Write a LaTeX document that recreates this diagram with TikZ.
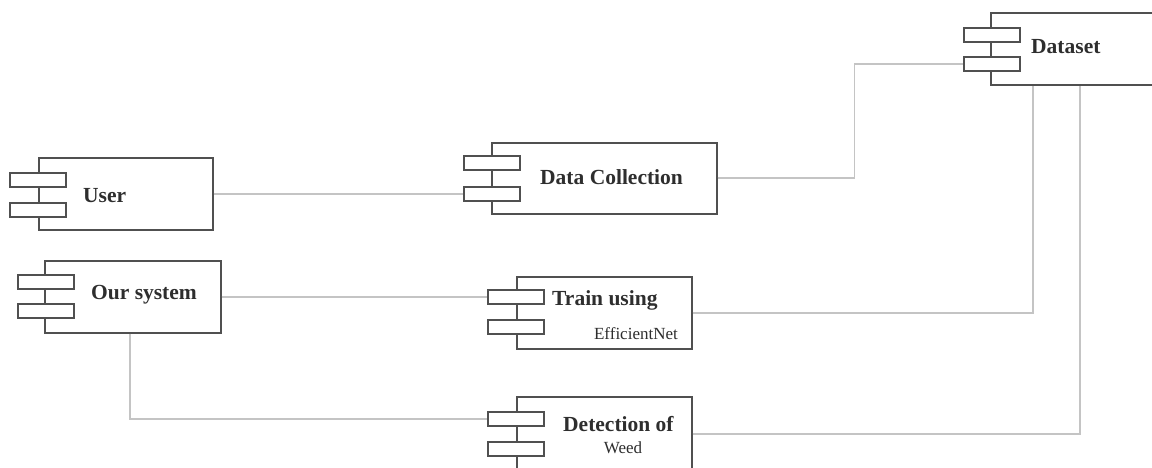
\documentclass[tikz,border=0pt]{standalone}
\usepackage{fontspec}
\setmainfont{Liberation Serif}
\usetikzlibrary{positioning}
\definecolor{edgegray}{HTML}{505050}
\definecolor{wiregray}{HTML}{C4C4C4}
\definecolor{inkgray}{HTML}{2E2E2E}
\tikzset{
  body/.style={draw=edgegray, line width=1.6pt, fill=white, rectangle, inner sep=0pt},
  tab/.style={draw=edgegray, line width=1.6pt, fill=white, rectangle, inner sep=0pt,
              minimum width=56pt, minimum height=14pt},
  wire/.style={draw=wiregray, line width=1.6pt},
  title/.style={font=\bfseries\fontsize{21.5}{24}\selectfont, text=inkgray, inner sep=0pt},
  subtitle/.style={font=\fontsize{17}{19}\selectfont, text=inkgray, inner sep=0pt}
}
\begin{document}
\begin{tikzpicture}[x=1pt, y=-1pt]
\useasboundingbox (0,0) rectangle (1152,468);
\clip (0,0) rectangle (1152,468);

% component bodies
\node[body, minimum width=174pt, minimum height=72pt, anchor=north west] (user) at (38,157) {};
\node[body, minimum width=176pt, minimum height=72pt, anchor=north west] (sys) at (44,260) {};
\node[body, minimum width=225pt, minimum height=71pt, anchor=north west] (coll) at (491,142) {};
\node[body, minimum width=175pt, minimum height=72pt, anchor=north west] (train) at (516,276) {};
\node[body, minimum width=175pt, minimum height=74pt, anchor=north west] (det) at (516,396) {};
\node[body, minimum width=170pt, minimum height=72pt, anchor=north west] (data) at (990,12) {};

% component tabs
\node[tab, anchor=north west] (u1) at (9,172) {};
\node[tab, anchor=north west] (u2) at (9,202) {};
\node[tab, anchor=north west] (s1) at (17,274) {};
\node[tab, anchor=north west] (s2) at (17,303) {};
\node[tab, anchor=north west] (c1) at (463,155) {};
\node[tab, anchor=north west] (c2) at (463,186) {};
\node[tab, anchor=north west] (t1) at (487,289) {};
\node[tab, anchor=north west] (t2) at (487,319) {};
\node[tab, anchor=north west] (d1) at (487,411) {};
\node[tab, anchor=north west] (d2) at (487,441) {};
\node[tab, anchor=north west] (k1) at (963,27) {};
\node[tab, anchor=north west] (k2) at (963,56) {};

% labels
\node[title, anchor=west] (userlbl) at (83,196) {User};
\node[title] (syslbl) at (144,295) {Our system};
\node[title, anchor=west] (colllbl) at (540,177) {Data Collection};
\node[title, anchor=west] (trainlbl) at (552,300) {Train using};
\node[subtitle, anchor=east] (trainlbl2) at (678,334) {EfficientNet};
\node[title, anchor=west] (detlbl) at (563,424) {Detection of};
\node[subtitle] (detlbl2) at (623,448) {Weed};
\node[title, anchor=west] (datalbl) at (1031,47) {Dataset};

% connector anchors
\path (coll.east) ++(137,0) coordinate (bendC);
\coordinate (sysfoot) at ([xshift=-3pt]sys.south);
\coordinate (dataA) at ([xshift=43pt]data.south west);
\coordinate (dataB) at ([xshift=90pt]data.south west);

% connectors
\draw[wire] (user.east) -- (user.east -| c2.west);
\draw[wire] (coll.east) -- (bendC) |- (k2.west);
\draw[wire] (sys.east) -- (sys.east -| t1.west);
\draw[wire] (sysfoot) |- (d1.west);
\draw[wire] (train.east) -| (dataA);
\draw[wire] (det.east) -| (dataB);
\end{tikzpicture}
\end{document}
